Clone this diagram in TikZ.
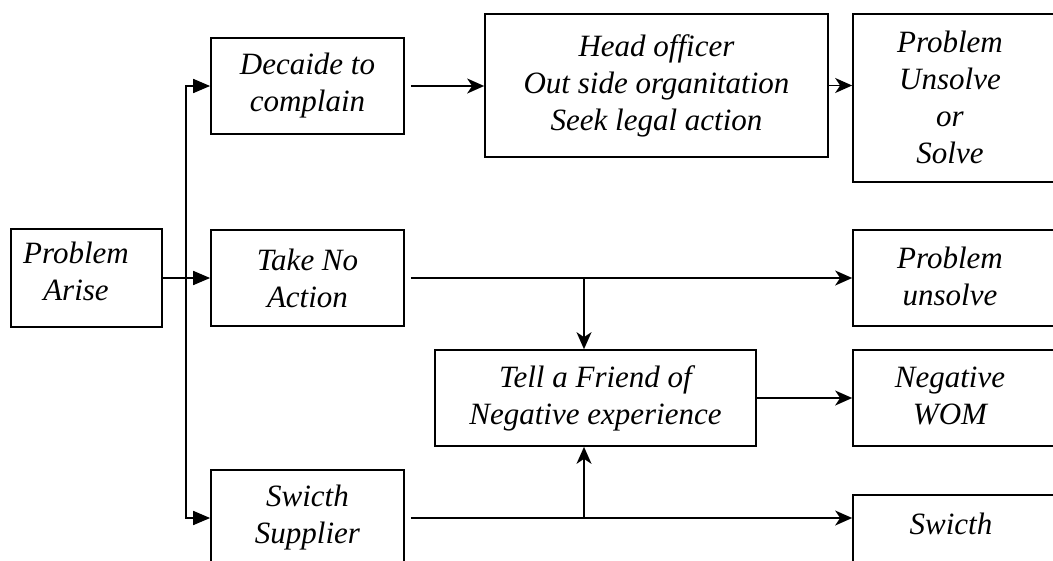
\documentclass[tikz,border=0pt]{standalone}
\usepackage{fontspec}
\setmainfont{Liberation Serif}
\usetikzlibrary{arrows.meta}
\begin{document}
\begin{tikzpicture}[x=1pt,y=-1pt,
  box/.style={draw, line width=1.7pt, rectangle, inner sep=0pt, minimum width=193pt, minimum height=96pt,
    align=center, font=\itshape\fontsize{31}{37}\selectfont},
  txt/.style={inner sep=0pt, align=center, font=\itshape\fontsize{31}{37}\selectfont},
  conn/.style={line width=1.7pt},
  tri/.style={conn, -{Triangle[length=17pt,width=14pt]}},
  stl/.style={conn, -{Stealth[length=17pt,width=15pt,inset=5pt]}}]
\useasboundingbox (0,0) rectangle (1053,560);
% left column
\node[box, minimum width=151pt, minimum height=98pt] (arise) at (86.5,278) {};
\node[txt] (arisetext) at (76,271) {Problem\\Arise};
\node[box] (decide) at (307.5,86) {Decaide to\\complain};
\node[box] (take) at (307.5,278) {Take No\\Action};
\node[box] (supplier) at (307.5,518) {Swicth\\Supplier};
% middle
\node[box, minimum width=343pt, minimum height=143pt] (head) at (656.5,85.5) {Head officer\\Out side organitation\\Seek legal action};
\node[box, minimum width=321pt] (tell) at (595.5,398) {Tell a Friend of\\Negative experience};
% right column (boxes run past the right edge)
\node[box, minimum width=217pt, minimum height=168pt] (unsolveor) at (961.5,98) {};
\node[txt] (unsolveortext) at (950,97) {Problem\\Unsolve\\or\\Solve};
\node[box, minimum width=217pt] (unsolve) at (961.5,278) {};
\node[txt] (unsolvetext) at (950,276) {Problem\\unsolve};
\node[box, minimum width=217pt] (wom) at (961.5,398) {};
\node[txt] (womtext) at (950,396) {Negative\\WOM};
\node[box, minimum width=217pt] (switchbox) at (961.5,543) {};
\node[txt] (switchtext) at (951,524) {Swicth};
% connectors
\coordinate (j) at (186,278);
\coordinate (b1) at (584,278);
\coordinate (b2) at (584,518);
\draw[tri] (arise.east) -- (take.west);
\draw[tri] (j) |- (decide.west);
\draw[tri] (j) |- (supplier.west);
\draw[stl, shorten <=6pt] (decide.east) -- (decide.east -| head.west);
\draw[stl] (head.east) -- (head.east -| unsolveor.west);
\draw[stl, shorten <=6pt] (take.east) -- (take.east -| unsolve.west);
\draw[stl] (b1) -- (b1 |- tell.north);
\draw[stl, shorten <=6pt] (supplier.east) -- (supplier.east -| switchbox.west);
\draw[stl] (b2) -- (b2 |- tell.south);
\draw[stl] (tell.east) -- (tell.east -| wom.west);
\end{tikzpicture}
\end{document}
